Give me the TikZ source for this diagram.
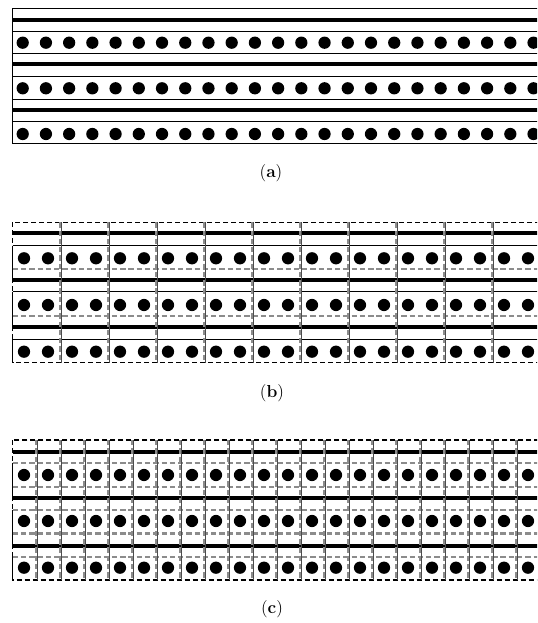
\documentclass[tikz,border=0pt]{standalone}
\usetikzlibrary{positioning}

\begin{document}
\begin{tikzpicture}[
        x=0.75pt, y=-0.75pt,
        font=\fontsize{13}{15}\selectfont,
        frame/.style={draw=black, line width=0.75pt},
        dframe/.style={draw=black, line width=0.8pt, dash pattern=on 3.8pt off 2.2pt},
        rule/.style={draw=black, line width=0.75pt},
        bar/.style={draw=black, line width=2.8pt},
        gdash/.style={draw=black!45, line width=1.8pt, dash pattern=on 4pt off 2.2pt},
        wire/.style={draw=black!70, line width=0.45pt},
        bead/.style={fill=black},
        tag/.style={inner sep=1pt}
    ]

    % page size of the reference
    \useasboundingbox (0,0) rectangle (537,623);
    \clip (0,0) rectangle (537,623);

    % (a) plain layers
    \draw[frame] (560,9) -- (12.3,9) -- (12.3,144) -- (560,144);
    \foreach \y in {31.7,53.3,76.7,99.3,121.7}
        \draw[rule] (12.3,\y) -- (560,\y);
    \foreach \y in {20,64.3,110}
        \draw[bar] (12.3,\y) -- (560,\y);
    \foreach \y in {42.7,88.3,134}
        \foreach \i in {0,...,22}
            \fill[bead] (22.7+23.22*\i,\y) circle[radius=4.6pt];
    \node[tag] (laba) at (271,173) {(\textbf{a})};

    % (b) cells of two beads
    \draw[dframe] (12.7,222.3) rectangle (560,362.7);
    \foreach \y in {233.3,280,327.3}
        \draw[bar] (12.7,\y) -- (560,\y);
    \foreach \y in {245.7,291.7,339.3}
        \draw[rule] (12.7,\y) -- (560,\y);
    \foreach \a/\b in {245.7/280,291.7/327.3,339.3/362.7}
        \draw[rule] (12.7,\a) -- (12.7,\b);
    \foreach \y in {269,316}
        \draw[gdash] (12.7,\y) -- (560,\y);
    \foreach \y in {258.3,305,351.7}
        \foreach \i in {0,...,21}
            \fill[bead] (24+24*\i,\y) circle[radius=4.6pt];
    \foreach \i in {0,...,9} {
        \draw[gdash] (60+48*\i,222.3) -- (60+48*\i,362.7);
        \draw[wire] (60.9+48*\i,222.3) -- (60.9+48*\i,362.7);
    }
    \node[tag] (labb) at (272,393) {(\textbf{b})};

    % (c) cells of one bead
    \draw[dframe] (12.7,440) rectangle (560,580);
    \foreach \y in {451.7,498.3,546}
        \draw[bar] (12.7,\y) -- (560,\y);
    \foreach \a/\b in {462.7/498.3,510/546,556.7/580}
        \draw[rule] (12.7,\a) -- (12.7,\b);
    \foreach \y in {462.7,486.7,510,533.3,556.7}
        \draw[gdash] (12.7,\y) -- (560,\y);
    \foreach \y in {475,521,567.7}
        \foreach \i in {0,...,21}
            \fill[bead] (24+24*\i,\y) circle[radius=4.6pt];
    \foreach \i in {0,...,20} {
        \draw[gdash] (36+24*\i,440) -- (36+24*\i,580);
        \draw[wire] (36.9+24*\i,440) -- (36.9+24*\i,580);
    }
    \node[tag] (labc) at (272,609) {(\textbf{c})};

\end{tikzpicture}
\end{document}
